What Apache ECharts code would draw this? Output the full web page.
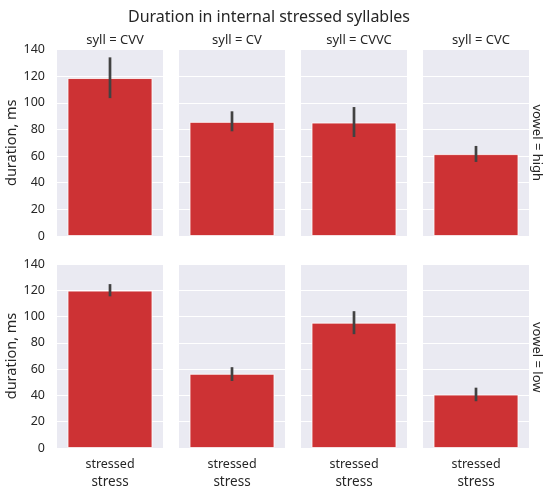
<!DOCTYPE html>
<html>
<head>
<meta charset="utf-8">
<script src="https://cdn.jsdelivr.net/npm/echarts@6/dist/echarts.min.js"></script>
<style>
  html, body { margin: 0; padding: 0; background: #fff; }
  #chart { width: 544px; height: 490px; }
</style>
</head>
<body>
<div id="chart"></div>
<script>
// facet data: columns = syllable type, rows = vowel height
var sylls = ['CVV', 'CV', 'CVVC', 'CVC'];
var vowels = ['high', 'low'];
var stressCats = ['stressed'];

var meanHigh = [118.5, 85.6, 85.1, 61.4];
var ciLowHigh = [103.5, 78.6, 74.3, 55.6];
var ciUpHigh = [134.1, 93.6, 96.8, 67.6];

var meanLow = [119.7, 56.4, 95.3, 40.6];
var ciLowLow = [115.4, 51.0, 86.6, 35.6];
var ciUpLow = [124.7, 61.5, 104.1, 45.9];

var yTicks = [0, 20, 40, 60, 80, 100, 120, 140];

var means = [meanHigh, meanLow];
var ciLo = [ciLowHigh, ciLowLow];
var ciUp = [ciUpHigh, ciUpLow];

var FONT = 'Noto Sans';
var TXT = '#262626';
var panelLeft = [57, 179, 301, 423];
var panelW = 106;
var rowTop = [49.5, 264];
var panelH = 186.5;

var grids = [], xAxes = [], yAxes = [], series = [], titles = [];

for (var r = 0; r < vowels.length; r++) {
    for (var c = 0; c < sylls.length; c++) {
        var k = r * sylls.length + c;
        grids.push({
            left: panelLeft[c], top: rowTop[r], width: panelW, height: panelH,
            show: true, backgroundColor: '#eaeaf2', borderWidth: 0
        });
        xAxes.push({
            type: 'category', gridIndex: k, data: stressCats,
            axisLine: {show: false}, axisTick: {show: false},
            axisLabel: {show: r === 1, color: TXT, fontFamily: FONT, fontSize: 12.5, margin: 10},
            name: r === 1 ? 'stress' : '', nameLocation: 'middle', nameGap: 27,
            nameTextStyle: {color: TXT, fontFamily: FONT, fontSize: 13.5}
        });
        yAxes.push({
            type: 'value', gridIndex: k, min: yTicks[0], max: yTicks[yTicks.length - 1], interval: 20,
            axisLine: {show: false}, axisTick: {show: false},
            splitLine: {show: true, lineStyle: {color: '#ffffff', width: 1}},
            axisLabel: {show: c === 0, color: TXT, fontFamily: FONT, fontSize: 12.5, margin: 12},
            name: c === 0 ? 'duration, ms' : '', nameLocation: 'middle', nameGap: 37,
            nameTextStyle: {color: TXT, fontFamily: FONT, fontSize: 14.5}
        });
        series.push({
            type: 'bar', xAxisIndex: k, yAxisIndex: k,
            data: [means[r][c]], barWidth: '80%',
            itemStyle: {color: '#cd3234', borderColor: '#ffffff', borderWidth: 0.8},
            silent: true
        });
        series.push({
            type: 'custom', xAxisIndex: k, yAxisIndex: k,
            data: [[0, ciLo[r][c], ciUp[r][c]]],
            encode: {x: 0, y: [1, 2]},
            renderItem: function (params, api) {
                var p1 = api.coord([api.value(0), api.value(1)]);
                var p2 = api.coord([api.value(0), api.value(2)]);
                return {
                    type: 'line',
                    shape: {x1: p1[0], y1: p1[1], x2: p2[0], y2: p2[1]},
                    style: {stroke: '#424242', lineWidth: 2.7}
                };
            },
            z: 5, silent: true
        });
    }
}

titles.push({
    text: 'Duration in internal stressed syllables', left: 264, top: 4, textAlign: 'center',
    textStyle: {color: TXT, fontFamily: FONT, fontSize: 16, fontWeight: 'normal'}
});
for (var c = 0; c < sylls.length; c++) {
    titles.push({
        text: 'syll = ' + sylls[c], left: panelLeft[c] + panelW / 2, top: 29, textAlign: 'center',
        textStyle: {color: TXT, fontFamily: FONT, fontSize: 13, fontWeight: 'normal'}
    });
}

var graphics = [];
for (var r = 0; r < vowels.length; r++) {
    graphics.push({
        type: 'text', x: 537, y: rowTop[r] + panelH / 2, rotation: -Math.PI / 2,
        style: {
            text: 'vowel = ' + vowels[r], fill: TXT, font: '13px "' + FONT + '"',
            textAlign: 'center', textVerticalAlign: 'middle'
        }
    });
}

var chart = echarts.init(document.getElementById('chart'));
chart.setOption({
    animation: false,
    backgroundColor: '#ffffff',
    title: titles,
    grid: grids,
    xAxis: xAxes,
    yAxis: yAxes,
    series: series,
    graphic: graphics
});
</script>
</body>
</html>
